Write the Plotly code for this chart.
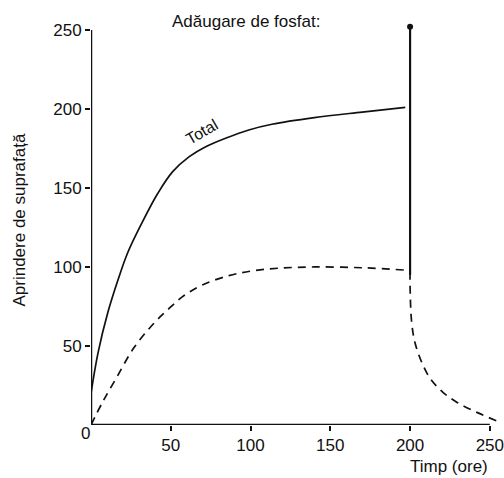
import plotly.graph_objects as go

# Data
total_x = [0, 4.4, 10.5, 17, 23, 32, 41.9, 51.2, 61.6, 71.9, 84.3, 98.9, 113.4, 140, 170, 197]
total_y = [20, 45.6, 71, 92, 109, 128, 146.6, 160.3, 169.8, 176.1, 181.4, 186.7, 190.3, 194.5, 198, 201]

dash_x = [0, 7, 16, 27, 40, 48, 57.4, 69.8, 86.4, 101, 117.5, 140, 170, 197]
dash_y = [0, 14, 30, 49, 65, 72.8, 81.2, 88.6, 94.5, 97.5, 99.2, 100, 99.5, 98]

decay_x = [200, 200, 201, 203.1, 207.3, 212.9, 220.6, 229.5, 241.9, 256.4]
decay_y = [97, 88, 65, 52, 39.7, 29, 20.7, 14.3, 8, 1.7]

phos_x = [200, 200]
phos_y = [95, 252]

x_ticks = [50, 100, 150, 200, 250]
y_ticks = [50, 100, 150, 200, 250]

FONT = "Liberation Sans, Arial, sans-serif"
BLACK = "#111111"
FS = 17

fig = go.Figure()
fig.add_trace(go.Scatter(x=total_x, y=total_y, mode="lines",
                         line=dict(color=BLACK, width=1.7, shape="spline", smoothing=1.0), showlegend=False))
fig.add_trace(go.Scatter(x=dash_x, y=dash_y, mode="lines",
                         line=dict(color=BLACK, width=1.7, dash="8px,6px", shape="spline", smoothing=1.0), showlegend=False))
fig.add_trace(go.Scatter(x=decay_x, y=decay_y, mode="lines",
                         line=dict(color=BLACK, width=1.7, dash="8px,6px", shape="spline", smoothing=1.0), showlegend=False))
fig.add_trace(go.Scatter(x=phos_x, y=phos_y, mode="lines", line=dict(color=BLACK, width=2.2), showlegend=False))
fig.add_trace(go.Scatter(x=[phos_x[1]], y=[phos_y[1]], mode="markers", marker=dict(color=BLACK, size=6),
                         cliponaxis=False, showlegend=False))

# axis lines
fig.add_shape(type="line", x0=0, x1=250, y0=0, y1=0, xref="x", yref="y", line=dict(color=BLACK, width=2.5))
fig.add_shape(type="line", x0=0, x1=0, y0=0, y1=250, xref="x", yref="y", line=dict(color=BLACK, width=2.5))

W, H = 504, 478
l, r, t, b = 91, 0, 22, 53
pw, ph = W - l - r, H - t - b


def px(xp, yp):
    return dict(xref="paper", yref="paper", x=(xp - l) / pw, y=(H - b - yp) / ph,
                xanchor="center", yanchor="middle", showarrow=False)


fig.update_layout(
    width=W, height=H,
    margin=dict(l=l, r=r, t=t, b=b),
    plot_bgcolor="white", paper_bgcolor="white",
    font=dict(family=FONT, size=FS, color=BLACK),
    xaxis=dict(range=[0, 257], tickvals=x_ticks, ticks="outside", ticklen=5, tickwidth=1.5,
               tickcolor=BLACK, showgrid=False, zeroline=False, showline=False,
               ticklabeloverflow="allow", tickfont=dict(size=FS)),
    yaxis=dict(range=[0, 255], tickvals=y_ticks, ticks="outside", ticklen=5, tickwidth=1.5,
               tickcolor=BLACK, showgrid=False, zeroline=False, showline=False,
               tickfont=dict(size=FS)),
    annotations=[
        dict(text="Adăugare de fosfat:", font=dict(size=FS), **px(247, 21)),
        dict(text="Aprindere de suprafață", textangle=-90, font=dict(size=FS), **px(18, 220)),
        dict(text="Timp (ore)", font=dict(size=FS), **px(452, 466)),
        dict(text="0", font=dict(size=FS), **px(85, 433)),
        dict(text="Total", x=69.8, y=185.6, xref="x", yref="y", textangle=-30, showarrow=False,
             font=dict(size=16)),
    ],
)

fig.write_html("out.html")
